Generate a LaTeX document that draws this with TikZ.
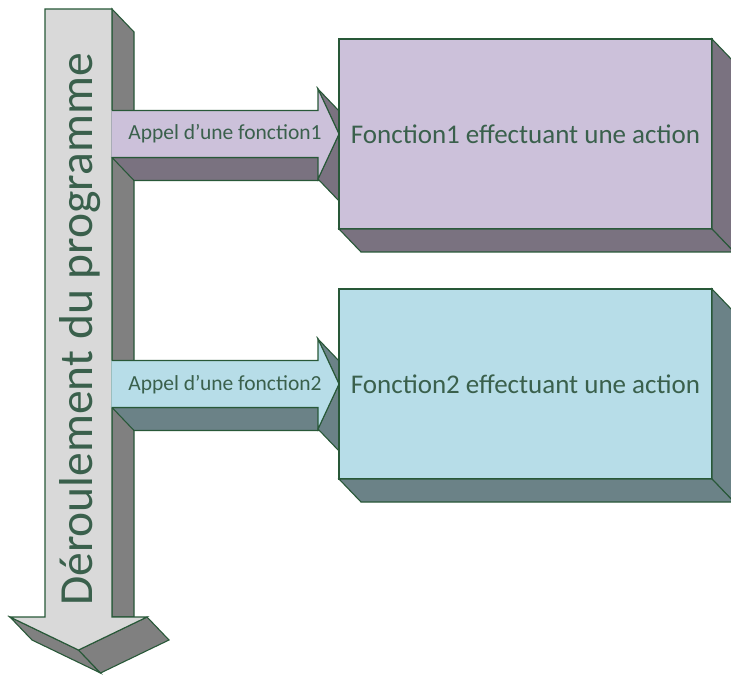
\documentclass[tikz,border=0pt]{standalone}
\usepackage{fontspec}
\setmainfont{Carlito}
\usetikzlibrary{calc}
\definecolor{lineGreen}{RGB}{40,88,56}
\definecolor{txtGreen}{RGB}{58,96,76}
\definecolor{flowFront}{RGB}{217,217,217}
\definecolor{flowSide}{RGB}{128,128,128}
\definecolor{lavFront}{RGB}{204,193,218}
\definecolor{lavSide}{RGB}{122,114,128}
\definecolor{aquaFront}{RGB}{183,221,232}
\definecolor{aquaSide}{RGB}{107,130,135}

\begin{document}
\begin{tikzpicture}[
    x=1pt, y=-1pt,
    edge/.style={draw=lineGreen, line width=1.1pt, line join=miter},
    fctbox/.style={edge, anchor=west, minimum width=373pt, minimum height=190pt, inner sep=0pt, outer sep=0pt, text=txtGreen, font=\fontsize{27}{30}\selectfont},
    calllabel/.style={anchor=base, inner sep=0pt, text=txtGreen, font=\fontsize{21.5}{24}\selectfont}
]

\useasboundingbox (0,0) rectangle (731,676);
\clip (0,0) rectangle (731,676);

% Main flow arrow: side faces first, then the front
\draw[edge, fill=flowSide] (112,9) -- (134,32) -- (134,617) -- (112,617) -- cycle;
\draw[edge, fill=flowSide] (10,617) -- (78.5,650) -- (100.5,673) -- (32,640) -- cycle;
\draw[edge, fill=flowSide] (147,617) -- (169,640) -- (100.5,673) -- (78.5,650) -- cycle;
\draw[edge, fill=flowFront] (45,9) -- (112,9) -- (112,617) -- (147,617) -- (78.5,650) -- (10,617) -- (45,617) -- cycle;
\node[rotate=90, anchor=base, inner sep=0pt, text=txtGreen, font=\fontsize{47.5}{50}\selectfont] (flow) at (92.5,329.5) {Déroulement du programme};

% Call arrow 1
\coordinate (tip1) at (339,134);
\draw[edge, fill=lavSide] (112,157.5) -- (318,157.5) -- (340,180.5) -- (134,180.5) -- cycle;
\draw[edge, fill=lavSide] (318,89) -- (tip1) -- ++(22,23) -- (340,112) -- cycle;
\draw[edge, fill=lavSide] (318,179) -- (tip1) -- ++(22,23) -- (340,202) -- cycle;
\fill[lavFront] (111.4,110.5) -- (318,110.5) -- (318,89) -- (tip1) -- (318,179) -- (318,157.5) -- (111.4,157.5) -- cycle;
\draw[edge] (112,110.5) -- (318,110.5) -- (318,89) -- (tip1) -- (318,179) -- (318,157.5) -- (112,157.5);
\node[calllabel] (call1) at (225,140) {Appel d’une fonction1};

% Call arrow 2
\coordinate (tip2) at (339,384);
\draw[edge, fill=aquaSide] (112,407.5) -- (318,407.5) -- (340,430.5) -- (134,430.5) -- cycle;
\draw[edge, fill=aquaSide] (318,339) -- (tip2) -- ++(22,23) -- (340,362) -- cycle;
\draw[edge, fill=aquaSide] (318,429) -- (tip2) -- ++(22,23) -- (340,452) -- cycle;
\fill[aquaFront] (111.4,360.5) -- (318,360.5) -- (318,339) -- (tip2) -- (318,429) -- (318,407.5) -- (111.4,407.5) -- cycle;
\draw[edge] (112,360.5) -- (318,360.5) -- (318,339) -- (tip2) -- (318,429) -- (318,407.5) -- (112,407.5);
\node[calllabel] (call2) at (225,390) {Appel d’une fonction2};

% Function boxes, placed at the arrow tips
\node[fctbox, fill=lavFront] (fct1) at (tip1) {Fonction1 effectuant une action};
\draw[edge, fill=lavSide] (fct1.north east) -- ++(22,23) -- ($(fct1.south east)+(22,23)$) -- (fct1.south east) -- cycle;
\draw[edge, fill=lavSide] (fct1.south west) -- ++(22,23) -- ($(fct1.south east)+(22,23)$) -- (fct1.south east) -- cycle;

\node[fctbox, fill=aquaFront] (fct2) at (tip2) {Fonction2 effectuant une action};
\draw[edge, fill=aquaSide] (fct2.north east) -- ++(22,23) -- ($(fct2.south east)+(22,23)$) -- (fct2.south east) -- cycle;
\draw[edge, fill=aquaSide] (fct2.south west) -- ++(22,23) -- ($(fct2.south east)+(22,23)$) -- (fct2.south east) -- cycle;

\end{tikzpicture}
\end{document}
